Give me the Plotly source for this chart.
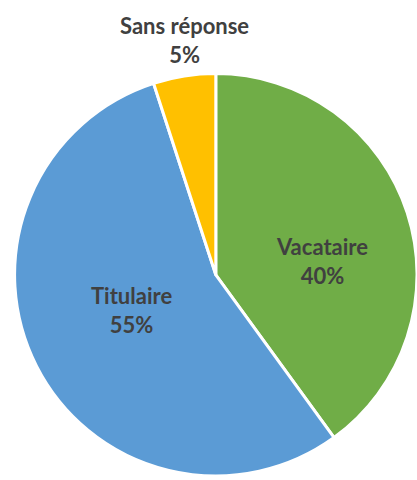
import plotly.graph_objects as go

# Survey answers: status of respondents (percent)
labels = ["Vacataire", "Titulaire", "Sans réponse"]
values = [40, 55, 5]
colors = ["#70AD47", "#5B9BD5", "#FFC000"]

W, H = 417, 480

fig = go.Figure(
    go.Pie(
        labels=labels,
        values=values,
        sort=False,
        direction="clockwise",
        rotation=0,
        marker=dict(colors=colors, line=dict(color="white", width=3)),
        textinfo="none",
        hoverinfo="label+percent",
        domain=dict(x=[0.035, 1.0], y=[0.0, 0.855]),
    )
)

# label placement (pixel centres of each text block)
label_pos = {
    "Vacataire": (322, 261),
    "Titulaire": (131, 310),
    "Sans réponse": (184, 40),
}

for lab, val in zip(labels, values):
    px, py = label_pos[lab]
    fig.add_annotation(
        x=px / W,
        y=1 - py / H,
        xref="paper",
        yref="paper",
        text=f"{lab}<br>{val}%",
        showarrow=False,
        xanchor="center",
        yanchor="middle",
        font=dict(family="Lato", size=22, color="#404040", weight="bold"),
    )

fig.update_layout(
    width=W,
    height=H,
    margin=dict(l=0, r=0, t=0, b=0),
    paper_bgcolor="white",
    plot_bgcolor="white",
    showlegend=False,
)

fig.write_html("out.html")
